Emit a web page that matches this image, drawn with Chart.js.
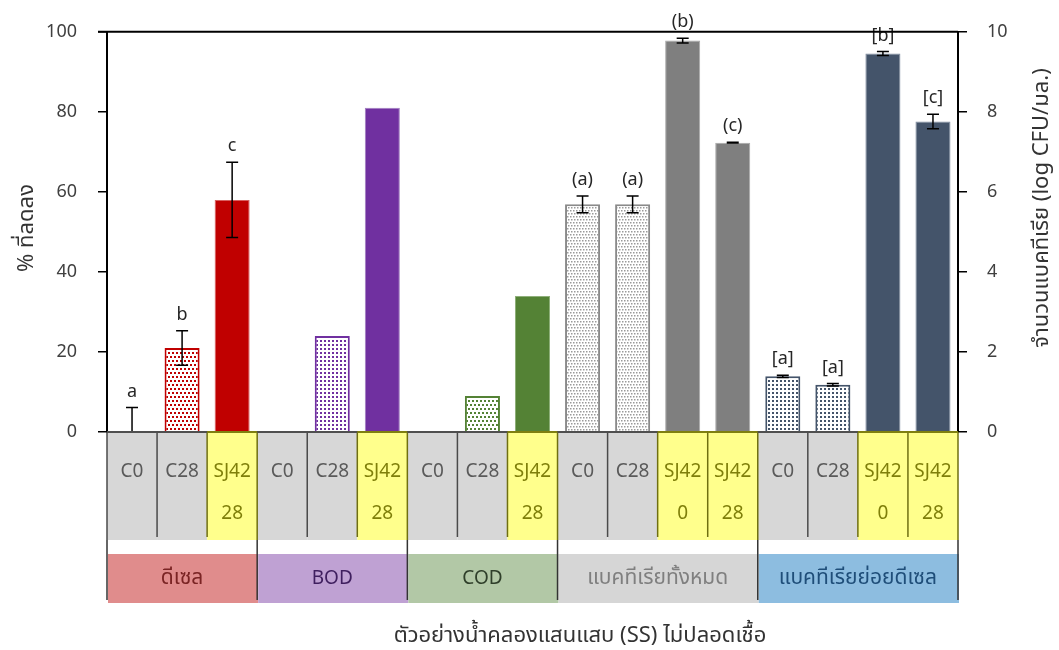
<!DOCTYPE html>
<html>
<head>
<meta charset="utf-8">
<script src="https://cdn.jsdelivr.net/npm/chart.js@4.4.0/dist/chart.umd.min.js"></script>
<style>
  html, body { margin: 0; padding: 0; background: #ffffff; }
  #wrap { width: 1059px; height: 650px; position: relative; }
</style>
</head>
<body>
<div id="wrap"><canvas id="chart"></canvas></div>
<script>
const FONT = '"Noto Sans", "Noto Sans Thai", Tahoma, sans-serif';

// Sample categories (one cell per bar) and the groups they belong to
const categories = [
  ['C0'], ['C28'], ['SJ42', '28'],
  ['C0'], ['C28'], ['SJ42', '28'],
  ['C0'], ['C28'], ['SJ42', '28'],
  ['C0'], ['C28'], ['SJ42', '0'], ['SJ42', '28'],
  ['C0'], ['C28'], ['SJ42', '0'], ['SJ42', '28']
];
const groupNames = ['ดีเซล', 'BOD', 'COD', 'แบคทีเรียทั้งหมด', 'แบคทีเรียย่อยดีเซล'];
const groupSizes = [3, 3, 3, 4, 4];

// Left axis: % reduction (diesel, BOD, COD)
const percentReduced = [0, 21, 58, 0, 24, 81, 0, 9, 34];
const percentError   = [6.1, 4.3, 9.4, 0, 0, 0, 0, 0, 0];
const percentLetters = ['a', 'b', 'c', '', '', '', '', '', ''];

// Right axis: bacteria count (log CFU/mL)
const logCount   = [5.69, 5.69, 9.78, 7.23, 1.39, 1.18, 9.46, 7.76];
const logError   = [0.21, 0.21, 0.06, 0.01, 0.03, 0.03, 0.05, 0.18];
const logLetters = ['(a)', '(a)', '(b)', '(c)', '[a]', '[a]', '[b]', '[c]'];

const leftTicks  = [0, 20, 40, 60, 80, 100];
const rightTicks = [0, 2, 4, 6, 8, 10];

const leftTitle  = '% ที่ลดลง';
const rightTitle = 'จำนวนแบคทีเรีย (log CFU/มล.)';
const xTitle     = 'ตัวอย่างน้ำคลองแสนแสบ (SS) ไม่ปลอดเชื้อ';

// Thai glyphs come from a fallback face that runs small, so Thai strings get a larger size
const hasThai = s => /[\u0E00-\u0E7F]/.test(s);
const fontFor = (s, latinSize, thaiSize) => (hasThai(s) ? thaiSize : latinSize) + 'px ' + FONT;

// ---- styles ----
const canvas = document.getElementById('chart');
canvas.width = 1059; canvas.height = 650;
const mainCtx = canvas.getContext('2d');

function dotPattern(color, dot, step, stagger) {
  const t = document.createElement('canvas');
  t.width = step; t.height = step * 2;
  const g = t.getContext('2d');
  g.fillStyle = '#ffffff';
  g.fillRect(0, 0, t.width, t.height);
  g.fillStyle = color;
  g.fillRect(0, 0, dot, dot);
  g.fillRect(stagger ? Math.floor(step / 2) : 0, step, dot, dot);
  return mainCtx.createPattern(t, 'repeat');
}

const RED = '#C00000', PURPLE = '#7030A0', GREEN = '#548235', GREY = '#7F7F7F', NAVY = '#44546A';
const redDots    = dotPattern(RED, 2, 4, true);
const purpleDots = dotPattern(PURPLE, 2, 4, false);
const greenDots  = dotPattern(GREEN, 2, 4, true);
const greyDots   = dotPattern('#9a9a9a', 1.5, 3, true);
const navyDots   = dotPattern(NAVY, 2, 4, false);

const barFill = [
  RED, redDots, RED,
  PURPLE, purpleDots, PURPLE,
  '#D0D0D0', greenDots, GREEN,
  greyDots, greyDots, GREY, GREY,
  navyDots, navyDots, NAVY, NAVY
];
const barBorder = [
  RED, RED, '#D86060',
  PURPLE, PURPLE, '#A07CC0',
  '#D0D0D0', GREEN, '#8FB07A',
  '#8a8a8a', '#8a8a8a', '#A8A8A8', '#A8A8A8',
  NAVY, NAVY, '#7F8CA0', '#7F8CA0'
];
const barBorderWidth = [0, 2, 1, 0, 2, 1, 0, 2, 1, 2, 2, 1, 1, 2, 2, 1, 1];

const cellKind = categories.map(c => c[0].startsWith('SJ') ? 'yellow' : 'grey');
const groupFill = ['#E08C8C', '#BFA1D3', '#B2C8A6', '#D6D6D6', '#8DBDE0'];
const groupText = ['#7A2424', '#3F1F5F', '#2F3F2A', '#7F7F7F', '#1F4E79'];

const nLeft = percentReduced.length;
const nRight = logCount.length;

// ---- plugins ----
const errorBars = {
  id: 'errorBars',
  afterDatasetsDraw(chart) {
    const ctx = chart.ctx;
    const area = chart.chartArea;
    const sets = [
      { meta: chart.getDatasetMeta(0), vals: percentReduced, errs: percentError, letters: percentLetters, scale: chart.scales.y, offset: 0 },
      { meta: chart.getDatasetMeta(1), vals: logCount, errs: logError, letters: logLetters, scale: chart.scales.y1, offset: nLeft }
    ];
    for (const s of sets) {
      s.vals.forEach((v, i) => {
        const el = s.meta.data[i + s.offset];
        if (!el) return;
        const x = el.x;
        const e = s.errs[i];
        const yTop = s.scale.getPixelForValue(v + e);
        const yBot = s.scale.getPixelForValue(v - e);
        if (e > 0) {
          ctx.save();
          ctx.beginPath();
          ctx.rect(area.left, area.top - 5, area.right - area.left, area.bottom - area.top + 5);
          ctx.clip();
          ctx.strokeStyle = '#000000';
          ctx.lineWidth = 1.5;
          ctx.beginPath();
          ctx.moveTo(x, yTop); ctx.lineTo(x, yBot);
          ctx.moveTo(x - 6, yTop); ctx.lineTo(x + 6, yTop);
          ctx.moveTo(x - 6, yBot); ctx.lineTo(x + 6, yBot);
          ctx.stroke();
          ctx.restore();
        }
        const letter = s.letters[i];
        if (letter) {
          ctx.save();
          ctx.fillStyle = '#262626';
          ctx.font = '18px ' + FONT;
          ctx.textAlign = 'center';
          ctx.textBaseline = 'middle';
          const top = e > 0 ? yTop : s.scale.getPixelForValue(v);
          ctx.fillText(letter, x, top - 16);
          ctx.restore();
        }
      });
    }
  }
};

const frameAndTable = {
  id: 'frameAndTable',
  afterDraw(chart) {
    const ctx = chart.ctx;
    const area = chart.chartArea;
    const xs = chart.scales.x;
    const n = categories.length;
    const centers = categories.map((_, i) => xs.getPixelForValue(i));
    const half = (centers[1] - centers[0]) / 2;
    const edges = [];
    for (let i = 0; i <= n; i++) edges.push(i < n ? centers[i] - half : centers[n - 1] + half);

    const cellTop = area.bottom + 1, cellBottom = area.bottom + 108;
    const boxTop = area.bottom + 122, boxBottom = area.bottom + 171;

    ctx.save();
    // category cells
    categories.forEach((lab, i) => {
      const yellow = cellKind[i] === 'yellow';
      ctx.fillStyle = yellow ? '#FFFF8C' : '#D7D7D7';
      ctx.fillRect(edges[i], cellTop, edges[i + 1] - edges[i], cellBottom - cellTop);
      ctx.fillStyle = yellow ? '#7F7F0A' : '#5A5A5A';
      ctx.font = '19px ' + FONT;
      ctx.textAlign = 'center';
      ctx.textBaseline = 'middle';
      ctx.fillText(lab[0], centers[i], area.bottom + 40);
      if (lab[1]) ctx.fillText(lab[1], centers[i], area.bottom + 82);
    });
    // group boxes
    let start = 0;
    const groupEdges = [0];
    groupSizes.forEach((sz, g) => {
      const x0 = edges[start], x1 = edges[start + sz];
      ctx.fillStyle = groupFill[g];
      ctx.fillRect(x0 + 1, boxTop, x1 - x0, boxBottom - boxTop);
      ctx.fillStyle = groupText[g];
      ctx.font = fontFor(groupNames[g], 19, 21);
      ctx.textAlign = 'center';
      ctx.textBaseline = 'middle';
      ctx.fillText(groupNames[g], (x0 + x1) / 2, (boxTop + boxBottom) / 2);
      start += sz;
      groupEdges.push(start);
    });
    // separators between cells
    for (let i = 0; i <= n; i++) {
      const isGroup = groupEdges.includes(i);
      const nearYellow = (i > 0 && cellKind[i - 1] === 'yellow') || (i < n && cellKind[i] === 'yellow');
      ctx.strokeStyle = nearYellow ? '#6F6F10' : '#4A4A4A';
      ctx.lineWidth = 1.5;
      ctx.beginPath();
      ctx.moveTo(edges[i], area.bottom);
      ctx.lineTo(edges[i], isGroup ? cellBottom : cellBottom - 3);
      ctx.stroke();
      if (isGroup) {
        ctx.strokeStyle = '#333333';
        ctx.beginPath();
        ctx.moveTo(edges[i], cellBottom);
        ctx.lineTo(edges[i], boxBottom - 3);
        ctx.stroke();
      }
    }
    // axis line segments over the cells
    categories.forEach((_, i) => {
      ctx.strokeStyle = cellKind[i] === 'yellow' ? '#7F7F10' : '#4F4F4F';
      ctx.lineWidth = 2;
      ctx.beginPath();
      ctx.moveTo(edges[i], area.bottom);
      ctx.lineTo(edges[i + 1], area.bottom);
      ctx.stroke();
    });
    // top frame line
    ctx.strokeStyle = '#000000';
    ctx.lineWidth = 2;
    ctx.beginPath();
    ctx.moveTo(area.left - 9, area.top);
    ctx.lineTo(area.right, area.top);
    ctx.stroke();

    // axis titles
    ctx.fillStyle = '#333333';
    ctx.textAlign = 'center';
    ctx.textBaseline = 'middle';
    ctx.save();
    ctx.font = fontFor(leftTitle, 18, 22);
    ctx.translate(27, 228);
    ctx.rotate(-Math.PI / 2);
    ctx.fillText(leftTitle, 0, 0);
    ctx.restore();
    ctx.save();
    ctx.font = fontFor(rightTitle, 18, 22);
    ctx.translate(1042, 208);
    ctx.rotate(-Math.PI / 2);
    ctx.fillText(rightTitle, 0, 0);
    ctx.restore();
    ctx.font = fontFor(xTitle, 19, 22);
    ctx.fillText(xTitle, 580, 636);
    ctx.restore();
  }
};

new Chart(canvas, {
  type: 'bar',
  data: {
    labels: categories,
    datasets: [
      {
        label: leftTitle,
        data: percentReduced.concat(new Array(nRight).fill(null)),
        yAxisID: 'y',
        backgroundColor: barFill,
        borderColor: barBorder,
        borderWidth: barBorderWidth,
        grouped: false,
        barPercentage: 0.7,
        categoryPercentage: 1
      },
      {
        label: rightTitle,
        data: new Array(nLeft).fill(null).concat(logCount),
        yAxisID: 'y1',
        backgroundColor: barFill,
        borderColor: barBorder,
        borderWidth: barBorderWidth,
        grouped: false,
        barPercentage: 0.7,
        categoryPercentage: 1
      }
    ]
  },
  options: {
    responsive: false,
    animation: false,
    layout: { padding: { top: 27, left: 0, right: 0, bottom: 0 } },
    plugins: { legend: { display: false }, tooltip: { enabled: false } },
    scales: {
      x: {
        ticks: { display: false },
        grid: { display: false },
        border: { display: true, color: '#4F4F4F', width: 2 },
        afterFit(s) { s.height = 218; }
      },
      y: {
        position: 'left',
        min: leftTicks[0],
        max: leftTicks[leftTicks.length - 1],
        afterBuildTicks(s) { s.ticks = leftTicks.map(v => ({ value: v })); },
        ticks: { color: '#404040', font: { size: 18, family: FONT }, padding: 21 },
        grid: { drawOnChartArea: false, tickLength: 9, color: '#000000', lineWidth: 1.5 },
        border: { display: true, color: '#000000', width: 2 },
        afterFit(s) { s.width = 107; }
      },
      y1: {
        position: 'right',
        min: rightTicks[0],
        max: rightTicks[rightTicks.length - 1],
        afterBuildTicks(s) { s.ticks = rightTicks.map(v => ({ value: v })); },
        ticks: { color: '#404040', font: { size: 18, family: FONT }, padding: 20 },
        grid: { drawOnChartArea: false, tickLength: 9, color: '#000000', lineWidth: 1.5 },
        border: { display: true, color: '#000000', width: 2 },
        afterFit(s) { s.width = 101; }
      }
    }
  },
  plugins: [errorBars, frameAndTable]
});
</script>
</body>
</html>
